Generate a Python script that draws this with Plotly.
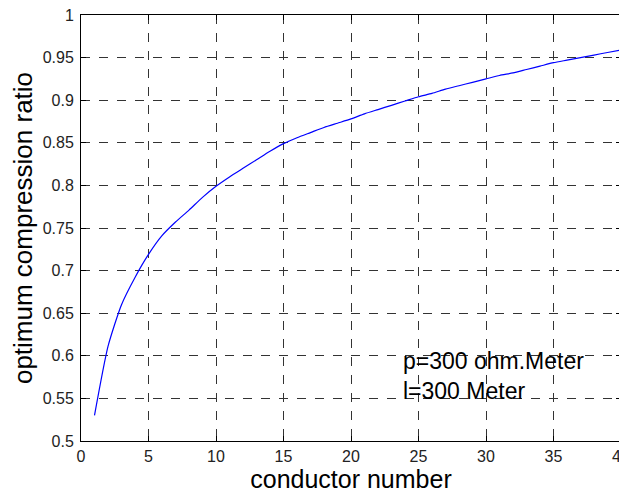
import plotly.graph_objects as go

conductor_number = list(range(1, 41))
compression_ratio = [
    0.530, 0.611, 0.660, 0.692, 0.719, 0.741, 0.757, 0.771, 0.786, 0.799,
    0.810, 0.820, 0.830, 0.840, 0.849, 0.856, 0.862, 0.868, 0.873, 0.878,
    0.884, 0.889, 0.894, 0.899, 0.904, 0.908, 0.913, 0.917, 0.921, 0.925,
    0.929, 0.932, 0.936, 0.940, 0.944, 0.947, 0.950, 0.953, 0.956, 0.959,
]
x_ticks = [0, 5, 10, 15, 20, 25, 30, 35, 40]
y_ticks = [0.5, 0.55, 0.6, 0.65, 0.7, 0.75, 0.8, 0.85, 0.9, 0.95, 1]
y_tick_labels = ["0.5", "0.55", "0.6", "0.65", "0.7", "0.75", "0.8", "0.85", "0.9", "0.95", "1"]
note_lines = ["p=300 ohm.Meter", "l=300 Meter"]

fig = go.Figure()
fig.add_trace(go.Scatter(
    x=conductor_number, y=compression_ratio, mode="lines", line_shape="spline",
    line=dict(color="#0000ff", width=1.2, smoothing=0.6), showlegend=False,
))

font_family = "Arial, Liberation Sans, sans-serif"
axis_common = dict(
    showline=True, linecolor="black", linewidth=1, mirror="ticks",
    ticks="inside", ticklen=5, tickcolor="black",
    showgrid=True, gridcolor="#333333", griddash="dash", gridwidth=1,
    zeroline=False, tickfont=dict(family=font_family, size=16, color="#222"),
    automargin=False, ticklabeloverflow="allow",
)

fig.update_xaxes(
    range=[0, 40], tickvals=x_ticks, ticktext=[str(v) for v in x_ticks],
    title=dict(text="conductor number", font=dict(family=font_family, size=25, color="black"), standoff=4),
    ticklabelstandoff=1,
    **axis_common,
)
fig.update_yaxes(
    range=[0.5, 1], tickvals=y_ticks, ticktext=y_tick_labels,
    title=dict(text="optimum compression ratio", font=dict(family=font_family, size=26, color="black"), standoff=12),
    ticklabelstandoff=3,
    **axis_common,
)

fig.add_annotation(
    x=23.7, y=0.576, xref="x", yref="y", xanchor="left", yanchor="middle",
    text="<br>".join(note_lines), showarrow=False, align="left",
    font=dict(family=font_family, size=23, color="black"),
)

# the page body has an 8px margin, so the figure is sized to fill the rest
fig.update_layout(
    width=619, height=486,
    margin=dict(l=73, r=6, t=7, b=53),
    paper_bgcolor="white", plot_bgcolor="white",
)

fig.write_html("out.html")
